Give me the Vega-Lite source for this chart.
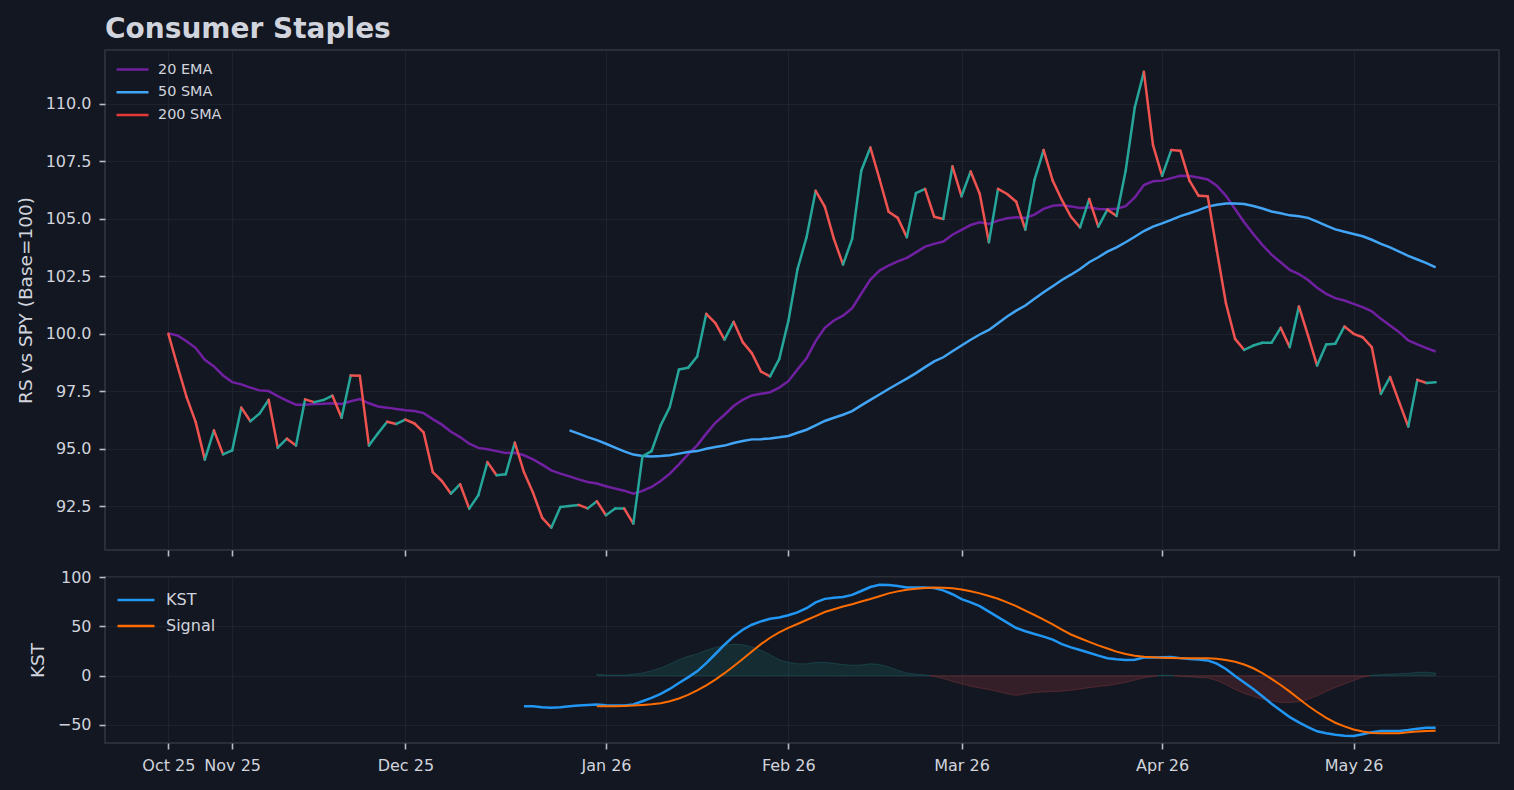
{
  "$schema": "https://vega.github.io/schema/vega-lite/v6.json",
  "background": "#131722",
  "padding": {"left": 15, "top": 15, "right": 24, "bottom": 24},
  "spacing": 27,
  "bounds": "flush",
  "resolve": {"scale": {"color": "independent"}, "legend": {"color": "independent"}},
  "datasets": {
    "rs": [
      {"i": 0, "rs": 100.0, "ema": 100.02, "sma": null},
      {"i": 1, "rs": 98.6, "ema": 99.93, "sma": null},
      {"i": 2, "rs": 97.25, "ema": 99.68, "sma": null},
      {"i": 3, "rs": 96.16, "ema": 99.38, "sma": null},
      {"i": 4, "rs": 94.53, "ema": 98.87, "sma": null},
      {"i": 5, "rs": 95.8, "ema": 98.58, "sma": null},
      {"i": 6, "rs": 94.76, "ema": 98.19, "sma": null},
      {"i": 7, "rs": 94.93, "ema": 97.9, "sma": null},
      {"i": 8, "rs": 96.79, "ema": 97.8, "sma": null},
      {"i": 9, "rs": 96.2, "ema": 97.66, "sma": null},
      {"i": 10, "rs": 96.53, "ema": 97.54, "sma": null},
      {"i": 11, "rs": 97.13, "ema": 97.51, "sma": null},
      {"i": 12, "rs": 95.05, "ema": 97.29, "sma": null},
      {"i": 13, "rs": 95.44, "ema": 97.1, "sma": null},
      {"i": 14, "rs": 95.14, "ema": 96.92, "sma": null},
      {"i": 15, "rs": 97.15, "ema": 96.92, "sma": null},
      {"i": 16, "rs": 97.03, "ema": 96.95, "sma": null},
      {"i": 17, "rs": 97.12, "ema": 96.96, "sma": null},
      {"i": 18, "rs": 97.31, "ema": 96.98, "sma": null},
      {"i": 19, "rs": 96.35, "ema": 96.95, "sma": null},
      {"i": 20, "rs": 98.19, "ema": 97.07, "sma": null},
      {"i": 21, "rs": 98.18, "ema": 97.16, "sma": null},
      {"i": 22, "rs": 95.14, "ema": 96.98, "sma": null},
      {"i": 23, "rs": 95.68, "ema": 96.84, "sma": null},
      {"i": 24, "rs": 96.18, "ema": 96.79, "sma": null},
      {"i": 25, "rs": 96.08, "ema": 96.73, "sma": null},
      {"i": 26, "rs": 96.27, "ema": 96.68, "sma": null},
      {"i": 27, "rs": 96.1, "ema": 96.64, "sma": null},
      {"i": 28, "rs": 95.71, "ema": 96.55, "sma": null},
      {"i": 29, "rs": 93.99, "ema": 96.29, "sma": null},
      {"i": 30, "rs": 93.6, "ema": 96.05, "sma": null},
      {"i": 31, "rs": 93.05, "ema": 95.74, "sma": null},
      {"i": 32, "rs": 93.46, "ema": 95.51, "sma": null},
      {"i": 33, "rs": 92.4, "ema": 95.22, "sma": null},
      {"i": 34, "rs": 92.98, "ema": 95.04, "sma": null},
      {"i": 35, "rs": 94.42, "ema": 94.98, "sma": null},
      {"i": 36, "rs": 93.85, "ema": 94.9, "sma": null},
      {"i": 37, "rs": 93.89, "ema": 94.82, "sma": null},
      {"i": 38, "rs": 95.27, "ema": 94.83, "sma": null},
      {"i": 39, "rs": 93.99, "ema": 94.72, "sma": null},
      {"i": 40, "rs": 93.09, "ema": 94.54, "sma": null},
      {"i": 41, "rs": 92.0, "ema": 94.31, "sma": null},
      {"i": 42, "rs": 91.57, "ema": 94.06, "sma": null},
      {"i": 43, "rs": 92.47, "ema": 93.92, "sma": null},
      {"i": 44, "rs": 92.51, "ema": 93.8, "sma": 95.8},
      {"i": 45, "rs": 92.56, "ema": 93.67, "sma": 95.66},
      {"i": 46, "rs": 92.41, "ema": 93.56, "sma": 95.51},
      {"i": 47, "rs": 92.72, "ema": 93.49, "sma": 95.38},
      {"i": 48, "rs": 92.11, "ema": 93.37, "sma": 95.22},
      {"i": 49, "rs": 92.4, "ema": 93.27, "sma": 95.05},
      {"i": 50, "rs": 92.4, "ema": 93.18, "sma": 94.89},
      {"i": 51, "rs": 91.75, "ema": 93.05, "sma": 94.75},
      {"i": 52, "rs": 94.67, "ema": 93.17, "sma": 94.69},
      {"i": 53, "rs": 94.9, "ema": 93.34, "sma": 94.67},
      {"i": 54, "rs": 96.02, "ema": 93.6, "sma": 94.69},
      {"i": 55, "rs": 96.82, "ema": 93.92, "sma": 94.72},
      {"i": 56, "rs": 98.45, "ema": 94.32, "sma": 94.79},
      {"i": 57, "rs": 98.52, "ema": 94.76, "sma": 94.86},
      {"i": 58, "rs": 99.01, "ema": 95.15, "sma": 94.9},
      {"i": 59, "rs": 100.87, "ema": 95.66, "sma": 95.0},
      {"i": 60, "rs": 100.46, "ema": 96.13, "sma": 95.08},
      {"i": 61, "rs": 99.75, "ema": 96.48, "sma": 95.14},
      {"i": 62, "rs": 100.52, "ema": 96.86, "sma": 95.25},
      {"i": 63, "rs": 99.64, "ema": 97.13, "sma": 95.34},
      {"i": 64, "rs": 99.16, "ema": 97.32, "sma": 95.41},
      {"i": 65, "rs": 98.36, "ema": 97.39, "sma": 95.42},
      {"i": 66, "rs": 98.15, "ema": 97.46, "sma": 95.45},
      {"i": 67, "rs": 98.9, "ema": 97.66, "sma": 95.5},
      {"i": 68, "rs": 100.55, "ema": 97.94, "sma": 95.56},
      {"i": 69, "rs": 102.8, "ema": 98.45, "sma": 95.7},
      {"i": 70, "rs": 104.2, "ema": 98.94, "sma": 95.83},
      {"i": 71, "rs": 106.22, "ema": 99.68, "sma": 96.02},
      {"i": 72, "rs": 105.53, "ema": 100.26, "sma": 96.21},
      {"i": 73, "rs": 104.13, "ema": 100.58, "sma": 96.35},
      {"i": 74, "rs": 103.01, "ema": 100.79, "sma": 96.48},
      {"i": 75, "rs": 104.13, "ema": 101.11, "sma": 96.64},
      {"i": 76, "rs": 107.09, "ema": 101.74, "sma": 96.89},
      {"i": 77, "rs": 108.1, "ema": 102.36, "sma": 97.13},
      {"i": 78, "rs": 106.73, "ema": 102.75, "sma": 97.36},
      {"i": 79, "rs": 105.31, "ema": 102.97, "sma": 97.6},
      {"i": 80, "rs": 105.04, "ema": 103.15, "sma": 97.83},
      {"i": 81, "rs": 104.2, "ema": 103.3, "sma": 98.05},
      {"i": 82, "rs": 106.12, "ema": 103.54, "sma": 98.29},
      {"i": 83, "rs": 106.3, "ema": 103.79, "sma": 98.55},
      {"i": 84, "rs": 105.09, "ema": 103.91, "sma": 98.8},
      {"i": 85, "rs": 104.99, "ema": 104.01, "sma": 98.98},
      {"i": 86, "rs": 107.28, "ema": 104.31, "sma": 99.24},
      {"i": 87, "rs": 105.98, "ema": 104.52, "sma": 99.49},
      {"i": 88, "rs": 107.06, "ema": 104.73, "sma": 99.74},
      {"i": 89, "rs": 106.08, "ema": 104.85, "sma": 99.97},
      {"i": 90, "rs": 103.98, "ema": 104.78, "sma": 100.17},
      {"i": 91, "rs": 106.3, "ema": 104.92, "sma": 100.46},
      {"i": 92, "rs": 106.08, "ema": 105.02, "sma": 100.75},
      {"i": 93, "rs": 105.74, "ema": 105.07, "sma": 101.01},
      {"i": 94, "rs": 104.53, "ema": 105.04, "sma": 101.23},
      {"i": 95, "rs": 106.69, "ema": 105.18, "sma": 101.52},
      {"i": 96, "rs": 107.99, "ema": 105.43, "sma": 101.81},
      {"i": 97, "rs": 106.66, "ema": 105.57, "sma": 102.07},
      {"i": 98, "rs": 105.82, "ema": 105.6, "sma": 102.34},
      {"i": 99, "rs": 105.09, "ema": 105.54, "sma": 102.57},
      {"i": 100, "rs": 104.63, "ema": 105.47, "sma": 102.82},
      {"i": 101, "rs": 105.86, "ema": 105.5, "sma": 103.11},
      {"i": 102, "rs": 104.66, "ema": 105.43, "sma": 103.33},
      {"i": 103, "rs": 105.4, "ema": 105.42, "sma": 103.57},
      {"i": 104, "rs": 105.12, "ema": 105.44, "sma": 103.76},
      {"i": 105, "rs": 107.09, "ema": 105.55, "sma": 103.98},
      {"i": 106, "rs": 109.84, "ema": 105.93, "sma": 104.22},
      {"i": 107, "rs": 111.39, "ema": 106.47, "sma": 104.47},
      {"i": 108, "rs": 108.2, "ema": 106.63, "sma": 104.66},
      {"i": 109, "rs": 106.87, "ema": 106.66, "sma": 104.8},
      {"i": 110, "rs": 107.99, "ema": 106.77, "sma": 104.95},
      {"i": 111, "rs": 107.96, "ema": 106.87, "sma": 105.12},
      {"i": 112, "rs": 106.66, "ema": 106.86, "sma": 105.24},
      {"i": 113, "rs": 106.0, "ema": 106.8, "sma": 105.38},
      {"i": 114, "rs": 105.98, "ema": 106.71, "sma": 105.53},
      {"i": 115, "rs": 103.62, "ema": 106.44, "sma": 105.61},
      {"i": 116, "rs": 101.33, "ema": 106.0, "sma": 105.67},
      {"i": 117, "rs": 99.78, "ema": 105.43, "sma": 105.67},
      {"i": 118, "rs": 99.3, "ema": 104.85, "sma": 105.64},
      {"i": 119, "rs": 99.49, "ema": 104.34, "sma": 105.56},
      {"i": 120, "rs": 99.61, "ema": 103.86, "sma": 105.45},
      {"i": 121, "rs": 99.61, "ema": 103.44, "sma": 105.32},
      {"i": 122, "rs": 100.26, "ema": 103.11, "sma": 105.24},
      {"i": 123, "rs": 99.42, "ema": 102.78, "sma": 105.15},
      {"i": 124, "rs": 101.19, "ema": 102.6, "sma": 105.11},
      {"i": 125, "rs": 99.93, "ema": 102.34, "sma": 105.04},
      {"i": 126, "rs": 98.62, "ema": 102.0, "sma": 104.88},
      {"i": 127, "rs": 99.54, "ema": 101.74, "sma": 104.7},
      {"i": 128, "rs": 99.57, "ema": 101.55, "sma": 104.54},
      {"i": 129, "rs": 100.32, "ema": 101.45, "sma": 104.44},
      {"i": 130, "rs": 100.0, "ema": 101.3, "sma": 104.34},
      {"i": 131, "rs": 99.85, "ema": 101.16, "sma": 104.24},
      {"i": 132, "rs": 99.42, "ema": 100.98, "sma": 104.09},
      {"i": 133, "rs": 97.39, "ema": 100.65, "sma": 103.91},
      {"i": 134, "rs": 98.12, "ema": 100.36, "sma": 103.76},
      {"i": 135, "rs": 97.03, "ema": 100.07, "sma": 103.57},
      {"i": 136, "rs": 95.97, "ema": 99.71, "sma": 103.39},
      {"i": 137, "rs": 98.0, "ema": 99.54, "sma": 103.23},
      {"i": 138, "rs": 97.86, "ema": 99.38, "sma": 103.07},
      {"i": 139, "rs": 97.89, "ema": 99.23, "sma": 102.89}
    ],
    "kst": [
      {"i": 39, "kst": -31.2, "sig": null},
      {"i": 40, "kst": -31.2, "sig": null},
      {"i": 41, "kst": -32.0, "sig": null},
      {"i": 42, "kst": -32.5, "sig": null},
      {"i": 43, "kst": -32.1, "sig": null},
      {"i": 44, "kst": -31.1, "sig": null},
      {"i": 45, "kst": -30.4, "sig": null},
      {"i": 46, "kst": -29.7, "sig": null},
      {"i": 47, "kst": -29.4, "sig": -31.1},
      {"i": 48, "kst": -30.0, "sig": -31.1},
      {"i": 49, "kst": -30.3, "sig": -31.0},
      {"i": 50, "kst": -30.2, "sig": -30.7},
      {"i": 51, "kst": -29.2, "sig": -30.4},
      {"i": 52, "kst": -26.0, "sig": -29.8},
      {"i": 53, "kst": -22.6, "sig": -29.1},
      {"i": 54, "kst": -18.6, "sig": -28.0},
      {"i": 55, "kst": -13.5, "sig": -26.0},
      {"i": 56, "kst": -7.4, "sig": -23.2},
      {"i": 57, "kst": -1.7, "sig": -19.6},
      {"i": 58, "kst": 4.4, "sig": -15.0},
      {"i": 59, "kst": 12.8, "sig": -9.8},
      {"i": 60, "kst": 22.0, "sig": -4.0},
      {"i": 61, "kst": 31.4, "sig": 2.5},
      {"i": 62, "kst": 39.9, "sig": 9.5},
      {"i": 63, "kst": 46.6, "sig": 17.0},
      {"i": 64, "kst": 51.7, "sig": 24.5},
      {"i": 65, "kst": 55.1, "sig": 32.0},
      {"i": 66, "kst": 57.8, "sig": 38.5},
      {"i": 67, "kst": 59.1, "sig": 44.0},
      {"i": 68, "kst": 61.3, "sig": 48.5},
      {"i": 69, "kst": 64.2, "sig": 52.5},
      {"i": 70, "kst": 68.5, "sig": 56.5},
      {"i": 71, "kst": 74.4, "sig": 60.5},
      {"i": 72, "kst": 78.0, "sig": 64.6},
      {"i": 73, "kst": 79.2, "sig": 67.5},
      {"i": 74, "kst": 80.0, "sig": 70.2},
      {"i": 75, "kst": 82.0, "sig": 72.6},
      {"i": 76, "kst": 86.0, "sig": 75.3},
      {"i": 77, "kst": 90.0, "sig": 77.8},
      {"i": 78, "kst": 92.3, "sig": 80.7},
      {"i": 79, "kst": 92.0, "sig": 83.6},
      {"i": 80, "kst": 91.0, "sig": 85.6},
      {"i": 81, "kst": 89.6, "sig": 87.2},
      {"i": 82, "kst": 89.6, "sig": 88.2},
      {"i": 83, "kst": 89.6, "sig": 89.0},
      {"i": 84, "kst": 88.9, "sig": 89.5},
      {"i": 85, "kst": 86.6, "sig": 89.4},
      {"i": 86, "kst": 82.7, "sig": 88.8},
      {"i": 87, "kst": 77.8, "sig": 87.6},
      {"i": 88, "kst": 74.4, "sig": 85.8},
      {"i": 89, "kst": 70.6, "sig": 83.6},
      {"i": 90, "kst": 65.0, "sig": 80.9},
      {"i": 91, "kst": 59.4, "sig": 78.1},
      {"i": 92, "kst": 53.8, "sig": 74.5},
      {"i": 93, "kst": 48.4, "sig": 70.6},
      {"i": 94, "kst": 45.1, "sig": 66.0},
      {"i": 95, "kst": 42.3, "sig": 61.6},
      {"i": 96, "kst": 39.6, "sig": 56.9},
      {"i": 97, "kst": 36.6, "sig": 52.0},
      {"i": 98, "kst": 32.1, "sig": 46.8},
      {"i": 99, "kst": 28.7, "sig": 41.8},
      {"i": 100, "kst": 26.0, "sig": 38.0},
      {"i": 101, "kst": 23.3, "sig": 34.3},
      {"i": 102, "kst": 20.4, "sig": 30.8},
      {"i": 103, "kst": 17.7, "sig": 27.6},
      {"i": 104, "kst": 16.6, "sig": 24.4},
      {"i": 105, "kst": 16.0, "sig": 22.0},
      {"i": 106, "kst": 16.1, "sig": 20.2},
      {"i": 107, "kst": 18.5, "sig": 19.3},
      {"i": 108, "kst": 18.5, "sig": 18.7},
      {"i": 109, "kst": 18.6, "sig": 18.3},
      {"i": 110, "kst": 18.9, "sig": 18.0},
      {"i": 111, "kst": 17.8, "sig": 17.8},
      {"i": 112, "kst": 17.0, "sig": 17.8},
      {"i": 113, "kst": 16.5, "sig": 17.8},
      {"i": 114, "kst": 15.5, "sig": 17.6},
      {"i": 115, "kst": 12.2, "sig": 17.1},
      {"i": 116, "kst": 6.8, "sig": 16.0},
      {"i": 117, "kst": -0.3, "sig": 14.2},
      {"i": 118, "kst": -7.0, "sig": 11.3},
      {"i": 119, "kst": -13.5, "sig": 7.5},
      {"i": 120, "kst": -20.9, "sig": 2.5},
      {"i": 121, "kst": -28.6, "sig": -3.2},
      {"i": 122, "kst": -35.4, "sig": -9.5},
      {"i": 123, "kst": -42.1, "sig": -16.2},
      {"i": 124, "kst": -47.4, "sig": -23.4},
      {"i": 125, "kst": -52.2, "sig": -30.6},
      {"i": 126, "kst": -56.5, "sig": -36.9},
      {"i": 127, "kst": -58.5, "sig": -42.9},
      {"i": 128, "kst": -60.0, "sig": -47.8},
      {"i": 129, "kst": -61.0, "sig": -51.5},
      {"i": 130, "kst": -61.3, "sig": -54.6},
      {"i": 131, "kst": -59.5, "sig": -56.8},
      {"i": 132, "kst": -57.5, "sig": -58.2},
      {"i": 133, "kst": -56.2, "sig": -58.6},
      {"i": 134, "kst": -56.2, "sig": -58.6},
      {"i": 135, "kst": -56.2, "sig": -58.4},
      {"i": 136, "kst": -55.3, "sig": -57.6},
      {"i": 137, "kst": -54.0, "sig": -56.8},
      {"i": 138, "kst": -52.9, "sig": -56.3},
      {"i": 139, "kst": -52.9, "sig": -55.9}
    ],
    "hist": [
      {"i": 47, "h": 1.5, "seg": "A"},
      {"i": 48, "h": 0.5, "seg": "A"},
      {"i": 49, "h": 0.5, "seg": "A"},
      {"i": 50, "h": 0.5, "seg": "A"},
      {"i": 51, "h": 1.5, "seg": "A"},
      {"i": 52, "h": 2.7, "seg": "A"},
      {"i": 53, "h": 5.0, "seg": "A"},
      {"i": 54, "h": 7.8, "seg": "A"},
      {"i": 55, "h": 11.8, "seg": "A"},
      {"i": 56, "h": 16.2, "seg": "A"},
      {"i": 57, "h": 19.6, "seg": "A"},
      {"i": 58, "h": 22.0, "seg": "A"},
      {"i": 59, "h": 25.7, "seg": "A"},
      {"i": 60, "h": 28.7, "seg": "A"},
      {"i": 61, "h": 30.7, "seg": "A"},
      {"i": 62, "h": 32.1, "seg": "A"},
      {"i": 63, "h": 31.4, "seg": "A"},
      {"i": 64, "h": 29.1, "seg": "A"},
      {"i": 65, "h": 25.7, "seg": "A"},
      {"i": 66, "h": 21.3, "seg": "A"},
      {"i": 67, "h": 16.2, "seg": "A"},
      {"i": 68, "h": 13.5, "seg": "A"},
      {"i": 69, "h": 12.0, "seg": "A"},
      {"i": 70, "h": 12.0, "seg": "A"},
      {"i": 71, "h": 13.5, "seg": "A"},
      {"i": 72, "h": 13.5, "seg": "A"},
      {"i": 73, "h": 12.5, "seg": "A"},
      {"i": 74, "h": 11.3, "seg": "A"},
      {"i": 75, "h": 10.6, "seg": "A"},
      {"i": 76, "h": 10.8, "seg": "A"},
      {"i": 77, "h": 12.1, "seg": "A"},
      {"i": 78, "h": 11.4, "seg": "A"},
      {"i": 79, "h": 8.8, "seg": "A"},
      {"i": 80, "h": 5.5, "seg": "A"},
      {"i": 81, "h": 2.7, "seg": "A"},
      {"i": 82, "h": 1.5, "seg": "A"},
      {"i": 83, "h": 0.7, "seg": "A"},
      {"i": 83.5, "h": 0, "seg": "A"},
      {"i": 83.5, "h": 0, "seg": "B"},
      {"i": 84, "h": -0.7, "seg": "B"},
      {"i": 85, "h": -3.0, "seg": "B"},
      {"i": 86, "h": -5.7, "seg": "B"},
      {"i": 87, "h": -8.3, "seg": "B"},
      {"i": 88, "h": -10.8, "seg": "B"},
      {"i": 89, "h": -12.5, "seg": "B"},
      {"i": 90, "h": -14.1, "seg": "B"},
      {"i": 91, "h": -16.2, "seg": "B"},
      {"i": 92, "h": -18.5, "seg": "B"},
      {"i": 93, "h": -20.0, "seg": "B"},
      {"i": 94, "h": -18.5, "seg": "B"},
      {"i": 95, "h": -17.0, "seg": "B"},
      {"i": 96, "h": -16.5, "seg": "B"},
      {"i": 97, "h": -16.2, "seg": "B"},
      {"i": 98, "h": -15.8, "seg": "B"},
      {"i": 99, "h": -14.8, "seg": "B"},
      {"i": 100, "h": -13.5, "seg": "B"},
      {"i": 101, "h": -12.2, "seg": "B"},
      {"i": 102, "h": -11.0, "seg": "B"},
      {"i": 103, "h": -10.1, "seg": "B"},
      {"i": 104, "h": -8.5, "seg": "B"},
      {"i": 105, "h": -6.8, "seg": "B"},
      {"i": 106, "h": -4.5, "seg": "B"},
      {"i": 107, "h": -2.2, "seg": "B"},
      {"i": 108, "h": -0.5, "seg": "B"},
      {"i": 108.5, "h": 0, "seg": "B"},
      {"i": 108.5, "h": 0, "seg": "C"},
      {"i": 109, "h": 0.5, "seg": "C"},
      {"i": 110, "h": 0.3, "seg": "C"},
      {"i": 110.3, "h": 0, "seg": "C"},
      {"i": 110.3, "h": 0, "seg": "D"},
      {"i": 111, "h": -0.7, "seg": "D"},
      {"i": 112, "h": -1.2, "seg": "D"},
      {"i": 113, "h": -1.8, "seg": "D"},
      {"i": 114, "h": -2.4, "seg": "D"},
      {"i": 115, "h": -5.0, "seg": "D"},
      {"i": 116, "h": -9.0, "seg": "D"},
      {"i": 117, "h": -14.1, "seg": "D"},
      {"i": 118, "h": -18.0, "seg": "D"},
      {"i": 119, "h": -21.0, "seg": "D"},
      {"i": 120, "h": -24.0, "seg": "D"},
      {"i": 121, "h": -25.5, "seg": "D"},
      {"i": 122, "h": -27.2, "seg": "D"},
      {"i": 123, "h": -27.3, "seg": "D"},
      {"i": 124, "h": -26.4, "seg": "D"},
      {"i": 125, "h": -24.0, "seg": "D"},
      {"i": 126, "h": -20.5, "seg": "D"},
      {"i": 127, "h": -16.0, "seg": "D"},
      {"i": 128, "h": -12.0, "seg": "D"},
      {"i": 129, "h": -8.5, "seg": "D"},
      {"i": 130, "h": -5.0, "seg": "D"},
      {"i": 131, "h": -1.5, "seg": "D"},
      {"i": 131.75, "h": 0, "seg": "D"},
      {"i": 131.75, "h": 0, "seg": "E"},
      {"i": 132, "h": 0.5, "seg": "E"},
      {"i": 133, "h": 1.0, "seg": "E"},
      {"i": 134, "h": 1.5, "seg": "E"},
      {"i": 135, "h": 2.0, "seg": "E"},
      {"i": 136, "h": 2.3, "seg": "E"},
      {"i": 137, "h": 3.4, "seg": "E"},
      {"i": 138, "h": 3.5, "seg": "E"},
      {"i": 139, "h": 2.7, "seg": "E"}
    ]
  },
  "vconcat": [
    {
      "width": 1394,
      "height": 500,
      "title": {
        "text": "Consumer Staples",
        "anchor": "start",
        "frame": "group",
        "font": "DejaVu Sans",
        "fontSize": 28,
        "fontWeight": "bold",
        "color": "#d1d4dc",
        "baseline": "alphabetic",
        "offset": -16
      },
      "data": {"name": "rs"},
      "encoding": {
        "x": {
          "field": "i",
          "type": "quantitative",
          "scale": {"domain": [-6.95, 145.95], "nice": false, "zero": false},
          "axis": {
            "title": null,
            "labels": false,
            "values": [0, 7, 26, 48, 68, 87, 109, 130]
          }
        }
      },
      "layer": [
        {
          "mark": {"type": "line", "strokeWidth": 2.5},
          "encoding": {
            "y": {
              "field": "ema",
              "type": "quantitative",
              "title": "RS vs SPY (Base=100)",
              "scale": {"domain": [90.6, 112.34], "nice": false, "zero": false},
              "axis": {"values": [92.5, 95, 97.5, 100, 102.5, 105, 107.5, 110], "format": ".1f"}
            },
            "color": {
              "datum": "20 EMA",
              "type": "nominal",
              "scale": {
                "domain": ["20 EMA", "50 SMA", "200 SMA"],
                "range": ["#7020a0", "#42a5f5", "#e53935"]
              },
              "legend": {
                "orient": "none",
                "legendX": 16,
                "legendY": 8,
                "title": null,
                "padding": 0,
                "symbolType": "M-1.6,0L1.6,0",
                "symbolSize": 400,
                "symbolStrokeWidth": 2.5,
                "labelFont": "DejaVu Sans",
                "labelFontSize": 14.4,
                "labelColor": "#d1d4dc",
                "labelOffset": 14,
                "rowPadding": 4.8
              }
            }
          }
        },
        {
          "mark": {"type": "line", "strokeWidth": 2.5},
          "encoding": {
            "y": {"field": "sma", "type": "quantitative", "title": "RS vs SPY (Base=100)"},
            "color": {"datum": "50 SMA", "type": "nominal"}
          }
        },
        {
          "transform": [
            {
              "window": [
                {"op": "lead", "field": "rs", "as": "rs2"},
                {"op": "lead", "field": "i", "as": "i2"}
              ],
              "sort": [{"field": "i"}]
            },
            {"filter": "datum.i2 != null"}
          ],
          "mark": {"type": "rule", "strokeWidth": 2.5, "strokeCap": "round"},
          "encoding": {
            "x2": {"field": "i2"},
            "y": {"field": "rs", "type": "quantitative", "title": "RS vs SPY (Base=100)"},
            "y2": {"field": "rs2"},
            "color": {
              "condition": {"test": "datum.rs2 >= datum.rs", "value": "#26a69a"},
              "value": "#ef5350"
            }
          }
        }
      ]
    },
    {
      "width": 1394,
      "height": 166,
      "encoding": {
        "x": {
          "field": "i",
          "type": "quantitative",
          "scale": {"domain": [-6.95, 145.95], "nice": false, "zero": false},
          "axis": {
            "title": null,
            "values": [0, 7, 26, 48, 68, 87, 109, 130],
            "labelExpr": "['Oct 25','Nov 25','Dec 25','Jan 26','Feb 26','Mar 26','Apr 26','May 26'][indexof([0,7,26,48,68,87,109,130], datum.value)]",
            "labelPadding": 8
          }
        }
      },
      "layer": [
        {
          "data": {"name": "hist"},
          "mark": {"type": "area", "fillOpacity": 0.15, "strokeOpacity": 0.22, "strokeWidth": 1},
          "encoding": {
            "y": {
              "field": "h",
              "type": "quantitative",
              "title": "KST",
              "scale": {"domain": [-68.4, 100.2], "nice": false, "zero": false},
              "axis": {"values": [-50, 0, 50, 100]}
            },
            "y2": {"datum": 0},
            "fill": {
              "field": "seg",
              "type": "nominal",
              "scale": {"domain": ["A", "B", "C", "D", "E"], "range": ["#26a69a", "#ef5350", "#26a69a", "#ef5350", "#26a69a"]},
              "legend": null
            },
            "stroke": {
              "field": "seg",
              "type": "nominal",
              "scale": {"domain": ["A", "B", "C", "D", "E"], "range": ["#26a69a", "#ef5350", "#26a69a", "#ef5350", "#26a69a"]},
              "legend": null
            }
          }
        },
        {
          "data": {"values": [{}]},
          "mark": {"type": "rule", "color": "#2f333e", "strokeWidth": 2},
          "encoding": {"y": {"datum": 0}}
        },
        {
          "data": {"name": "kst"},
          "mark": {"type": "line", "strokeWidth": 2.5},
          "encoding": {
            "y": {"field": "kst", "type": "quantitative", "title": "KST"},
            "color": {
              "datum": "KST",
              "type": "nominal",
              "scale": {"domain": ["KST", "Signal"], "range": ["#2196f3", "#ff6d00"]},
              "legend": {
                "orient": "none",
                "legendX": 18,
                "legendY": 10,
                "title": null,
                "padding": 0,
                "symbolType": "M-1.6,0L1.6,0",
                "symbolSize": 534,
                "symbolStrokeWidth": 2.5,
                "labelFont": "DejaVu Sans",
                "labelFontSize": 16,
                "labelColor": "#d1d4dc",
                "labelOffset": 17,
                "rowPadding": 5
              }
            }
          }
        },
        {
          "data": {"name": "kst"},
          "mark": {"type": "line", "strokeWidth": 2},
          "encoding": {
            "y": {"field": "sig", "type": "quantitative", "title": "KST"},
            "color": {"datum": "Signal", "type": "nominal"}
          }
        }
      ]
    }
  ],
  "config": {
    "font": "DejaVu Sans",
    "view": {"stroke": "#2a2e39", "strokeWidth": 2},
    "axis": {
      "domain": false,
      "grid": true,
      "gridColor": "#1e222d",
      "gridWidth": 1,
      "tickColor": "#b8bbc4",
      "tickWidth": 1.6,
      "tickSize": 6,
      "labelColor": "#d1d4dc",
      "labelFont": "DejaVu Sans",
      "labelFontSize": 16,
      "labelPadding": 8,
      "labelOverlap": false,
      "titleColor": "#d1d4dc",
      "titleFont": "DejaVu Sans",
      "titleFontSize": 18.5,
      "titleFontWeight": "normal",
      "titlePadding": 10
    }
  }
}
